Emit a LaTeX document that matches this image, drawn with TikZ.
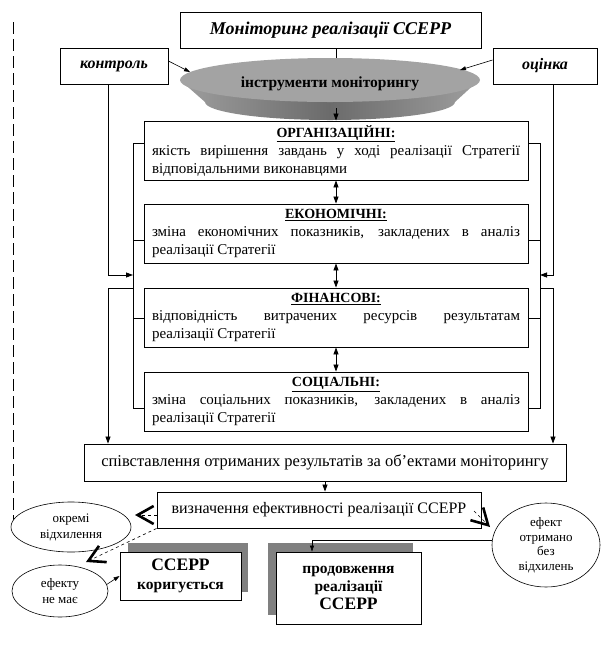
\documentclass[tikz,border=0pt]{standalone}
\usepackage{fontspec}
\setmainfont{Liberation Serif}
\usetikzlibrary{arrows.meta,shapes.geometric}
\newcommand\cattitle[1]{\hspace*{\fill}{\fontsize{14}{18}\selectfont\bfseries\underline{#1}}\hspace*{\fill}\par}
\begin{document}
\begin{tikzpicture}[x=1pt,y=-1pt,
  box/.style={draw,line width=0.9pt,fill=white,inner sep=0pt,align=center},
  catbox/.style={box,minimum width=384pt,minimum height=59pt,text width=368pt,align=justify,font=\fontsize{15}{18}\selectfont},
  oval/.style={draw,ellipse,line width=0.6pt,fill=white,inner sep=0pt,align=center},
  shadowbox/.style={fill=black!50,draw=none,inner sep=0pt},
  conn/.style={line width=0.8pt},
  arr/.style={conn,-{Triangle[length=7pt,width=5pt]}},
  sarr/.style={line width=0.6pt,-{Triangle[length=6pt,width=4pt]}},
  darr/.style={conn,{Triangle[length=7pt,width=5pt]}-{Triangle[length=7pt,width=5pt]}},
  chev/.style={dashed,line width=0.6pt,-{Straight Barb[line width=2.6pt,length=16pt,width=18pt]}}
]
\useasboundingbox (0,0) rectangle (601,649);

% long dashed line on the left
\coordinate (dashTop) at (13,22);
\coordinate (dashEnd) at (13,524);
\draw[line width=0.8pt,dash pattern=on 12pt off 5pt] (dashTop) -- (dashEnd);

% top boxes
\node[box,minimum width=301pt,minimum height=36pt,font=\bfseries\itshape\fontsize{18}{20}\selectfont] (title) at (330.5,30) {Моніторинг реалізації ССЕРР};
\node[box,minimum width=108pt,minimum height=36pt,font=\bfseries\itshape\fontsize{16}{18}\selectfont] (kontrol) at (114,66) {контроль};
\node[box,minimum width=104pt,minimum height=36pt,font=\bfseries\itshape\fontsize{16}{18}\selectfont] (ocinka) at (545,66) {оцінка};

% disk "instruments"
\shade[left color=black!38,right color=black!38,middle color=black!58]
  (180,80) -- (205,102) .. controls (205,111.9) and (261,120) .. (330,120)
  .. controls (399,120) and (455,111.9) .. (455,102) -- (479,80) -- cycle;
\fill[black!36] (330,80) ellipse [x radius=150pt, y radius=22pt];
\node[font=\bfseries\fontsize{15.5}{18}\selectfont,inner sep=0pt] (tools) at (330,84) {інструменти моніторингу};
\coordinate (diskT) at (336,58);
\coordinate (diskB) at (336,108);
\coordinate (diskL) at (190,72);
\coordinate (diskR) at (460,70);

\draw[conn] (title.south -| diskT) -- (diskT);
\draw[sarr] ([yshift=5pt]kontrol.east) -- (diskL);
\draw[sarr] ([yshift=6pt]ocinka.west) -- (diskR);

% category boxes
\node[catbox] (org) at (336,150.5) {\cattitle{ОРГАНІЗАЦІЙНІ:}якість вирішення завдань у ході реалізації Стратегії\linebreak відповідальними виконавцями};
\node[catbox] (econ) at (336,233.5) {\cattitle{ЕКОНОМІЧНІ:}зміна економічних показників, закладених в аналіз\linebreak реалізації Стратегії};
\node[catbox] (fin) at (336,317.5) {\cattitle{ФІНАНСОВІ:}відповідність витрачених ресурсів результатам\linebreak реалізації Стратегії};
\node[catbox] (soc) at (336,401.5) {\cattitle{СОЦІАЛЬНІ:}зміна соціальних показників, закладених в аналіз\linebreak реалізації Стратегії};

\draw[arr] (diskB) -- (diskB |- org.north);
\draw[darr] (org.south -| diskB) -- (econ.north -| diskB);
\draw[darr] (econ.south -| diskB) -- (fin.north -| diskB);
\draw[darr] (fin.south -| diskB) -- (soc.north -| diskB);

% comparison and determination boxes
\node[box,minimum width=482pt,minimum height=37pt,font=\fontsize{16.5}{18}\selectfont] (zist) at (325,462.5) {співставлення отриманих результатів за об’ектами моніторингу};
\node[box,minimum width=324pt,minimum height=36pt,font=\fontsize{16}{18}\selectfont] (vyz) at (319,510) {визначення ефективності реалізації ССЕРР};
\draw[arr] (zist.south) -- (zist.south |- vyz.north);

% side brackets
\coordinate (L1) at (133,143); \coordinate (L2) at (133,240);
\coordinate (L3) at (133,318); \coordinate (L4) at (133,408);
\coordinate (R1) at (540,143); \coordinate (R2) at (540,240);
\coordinate (R3) at (540,318); \coordinate (R4) at (540,408);
\draw[conn] (org.west |- L1) -- (L1) -- (L4) -- (soc.west |- L4);
\draw[conn] (econ.west |- L2) -- (L2);
\draw[conn] (fin.west |- L3) -- (L3);
\draw[conn] (org.east |- R1) -- (R1) -- (R4) -- (soc.east |- R4);
\draw[conn] (econ.east |- R2) -- (R2);
\draw[conn] (fin.east |- R3) -- (R3);

\coordinate (LinA) at (133,275); \coordinate (LinB) at (133,288);
\coordinate (LO) at (108,275); \coordinate (LO2) at (108,288);
\coordinate (RinA) at (540,275); \coordinate (RinB) at (540,288);
\coordinate (RO) at (553,275); \coordinate (RO2) at (553,288);
\draw[arr] (kontrol.south -| LO) -- (LO) -- (LinA);
\draw[arr] (LinB) -- (LO2) -- (LO2 |- zist.north);
\draw[arr] (ocinka.south -| RO) -- (RO) -- (RinA);
\draw[arr] (RinB) -- (RO2) -- (RO2 |- zist.north);

% ellipses
\node[oval,minimum width=120pt,minimum height=50pt,font=\fontsize{13}{16}\selectfont] (okremi) at (71,527) {окремі\\відхилення};
\node[oval,minimum width=96pt,minimum height=52pt,font=\fontsize{13}{16}\selectfont] (nemae) at (60,591) {ефекту\\не має};
\node[oval,minimum width=108pt,minimum height=84pt,font=\fontsize{13}{14.5}\selectfont] (efekt) at (546,545) {ефект\\отримано\\без\\відхилень};

% result boxes with shadows
\node[shadowbox,minimum width=120pt,minimum height=49pt] (korigS) at (188,567.5) {};
\node[box,minimum width=121pt,minimum height=48pt,font=\bfseries\fontsize{15.5}{19}\selectfont] (korig) at (180.5,576) {{\fontsize{17.5}{19}\selectfont ССЕРР}\\коригується};
\node[shadowbox,minimum width=145pt,minimum height=72pt] (prodS) at (340.5,579) {};
\node[box,minimum width=145pt,minimum height=72pt,font=\bfseries\fontsize{15.5}{18}\selectfont] (prod) at (348.5,588) {продовження\\реалізації\\{\fontsize{17.5}{19}\selectfont ССЕРР}};

% chevron connectors
\coordinate (c1) at (135,515);
\coordinate (c2) at (86,562);
\coordinate (c3s) at (474,511);
\coordinate (c3) at (490,527);
\draw[chev] (vyz.west |- c1) -- (c1);
\draw[chev] (vyz.south west) -- (c2);
\draw[chev] (c3s) -- (c3);

\draw[sarr] (nemae.8) -- (korig.west);
\coordinate (P) at (312,540);
\draw[sarr] (efekt.west |- P) -- (P) -- (P |- prod.north);
\end{tikzpicture}
\end{document}
